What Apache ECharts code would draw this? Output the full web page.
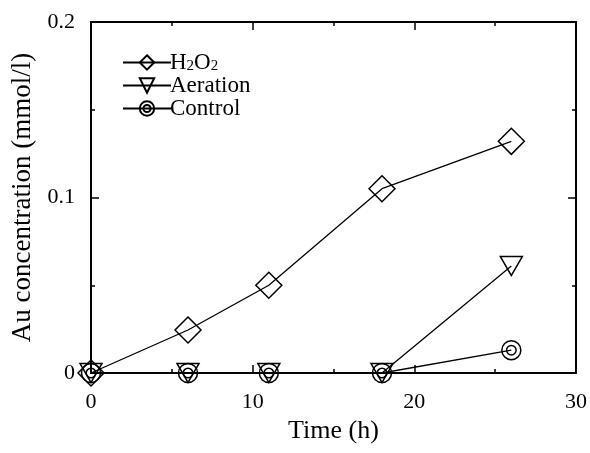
<!DOCTYPE html>
<html>
<head>
<meta charset="utf-8">
<script src="https://cdn.jsdelivr.net/npm/echarts@6/dist/echarts.min.js"></script>
<style>
  html, body { margin: 0; padding: 0; background: #fff; }
  #main { width: 590px; height: 453px; }
</style>
</head>
<body>
<div id="main"></div>
<script>
// data
var times = [0, 6, 11, 18, 26];
var h2o2 = [0, 0.0245, 0.05, 0.105, 0.132];
var aeration = [0, 0, 0, 0, 0.061];
var control = [0, 0, 0, 0, 0.013];
var xTicks = [0, 10, 20, 30];
var yTicks = [0, 0.1, 0.2];

var font = "'Liberation Serif', 'DejaVu Serif', serif";
var ringPath = "path://M20,10A10,10 0 1,1 0,10A10,10 0 1,1 20,10Z M15,10A5,5 0 1,1 5,10A5,5 0 1,1 15,10Z";
var downTri = "path://M0,0L20,0L10,17Z";

function pairs(vals) {
  return times.map(function (t, i) { return [t, vals[i]]; });
}

function makeSeries(name, vals, symbol, size) {
  return {
    name: name,
    type: "line",
    data: pairs(vals),
    symbol: symbol,
    symbolSize: size,
    showAllSymbol: true,
    lineStyle: { color: "#000", width: 1.3 },
    itemStyle: { color: "rgba(0,0,0,0)", borderColor: "#000", borderWidth: 1.5 },
    emphasis: { disabled: true },
    animation: false
  };
}

var chart = echarts.init(document.getElementById("main"));

var axisCommon = {
  axisLine: { show: true, onZero: false, lineStyle: { color: "#000", width: 2 } },
  axisTick: { show: true, inside: true, length: 8, lineStyle: { color: "#000", width: 1.5 } },
  minorTick: { show: true, splitNumber: 2, length: 4, lineStyle: { color: "#000", width: 1.5 } },
  splitLine: { show: false }
};

var option = {
  backgroundColor: "#fff",
  animation: false,
  grid: { left: 91, right: 13, top: 22, bottom: 80 },
  legend: {
    orient: "vertical",
    left: 117,
    top: 46,
    itemWidth: 48,
    itemHeight: 18,
    itemGap: 0,
    selectedMode: false,
    data: ["H2O2", "Aeration", "Control"],
    formatter: function (name) {
      return name === "H2O2" ? "H{s|2}O{s|2}" : name;
    },
    textStyle: {
      fontFamily: font,
      fontSize: 23,
      color: "#000",
      padding: [0, 0, 0, -6],
      rich: {
        s: { fontFamily: font, fontSize: 15, color: "#000", padding: [7, 0, 0, 0] }
      }
    }
  },
  xAxis: [
    Object.assign({
      type: "value",
      min: xTicks[0],
      max: xTicks[xTicks.length - 1],
      interval: xTicks[1] - xTicks[0],
      name: "Time (h)",
      nameLocation: "middle",
      nameGap: 38,
      nameTextStyle: { fontFamily: font, fontSize: 26, color: "#000" },
      axisLabel: { fontFamily: font, fontSize: 22, color: "#000", margin: 18 }
    }, axisCommon),
    Object.assign({
      type: "value",
      position: "top",
      min: xTicks[0],
      max: xTicks[xTicks.length - 1],
      interval: xTicks[1] - xTicks[0],
      axisLabel: { show: false }
    }, axisCommon)
  ],
  yAxis: [
    Object.assign({
      type: "value",
      min: yTicks[0],
      max: yTicks[yTicks.length - 1],
      interval: yTicks[1] - yTicks[0],
      name: "Au concentration (mmol/l)",
      nameLocation: "middle",
      nameGap: 48,
      nameTextStyle: { fontFamily: font, fontSize: 27, color: "#000" },
      axisLabel: {
        fontFamily: font, fontSize: 22, color: "#000", margin: 16,
        formatter: function (v) { return yTicks.indexOf(+v.toFixed(2)) >= 0 ? String(+v.toFixed(2)) : ""; }
      }
    }, axisCommon),
    Object.assign({
      type: "value",
      position: "right",
      min: yTicks[0],
      max: yTicks[yTicks.length - 1],
      interval: yTicks[1] - yTicks[0],
      axisLabel: { show: false }
    }, axisCommon)
  ],
  series: [
    makeSeries("H2O2", h2o2, "diamond", 26),
    makeSeries("Aeration", aeration, downTri, [22, 19]),
    makeSeries("Control", control, ringPath, 19)
  ]
};

chart.setOption(option);
</script>
</body>
</html>
